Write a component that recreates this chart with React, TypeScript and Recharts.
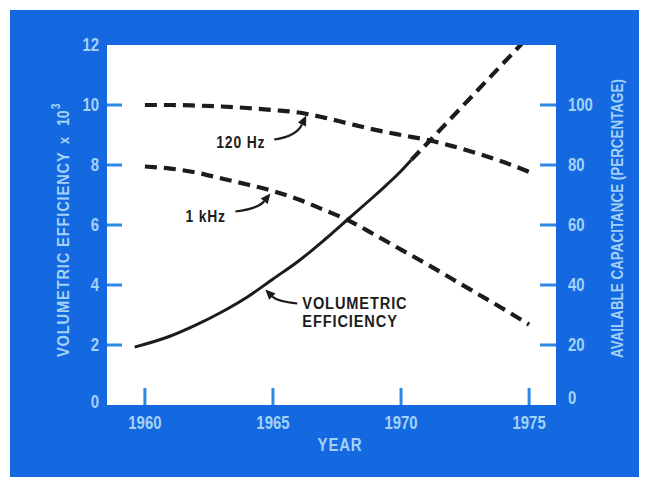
import React from 'react'
import { LineChart, Line, XAxis, YAxis, ReferenceDot } from 'recharts'

const FONT = "'Liberation Sans', Arial, Helvetica, sans-serif"
const FRAME_BLUE = '#1569e0'
const LABEL_BLUE = '#a3d2f8'
const TICK_BLUE = '#2b88e4'
const INK = '#1c1c1c'

const yearTicks = [1960, 1965, 1970, 1975]
const efficiencyTicks = [0, 2, 4, 6, 8, 10, 12]
const capacitanceTicks = [0, 20, 40, 60, 80, 100]

// volumetric efficiency x 10^3 — measured years (solid)
const measuredYears = [1959.6, 1961, 1962, 1963, 1964, 1965, 1966, 1967, 1968, 1969, 1970, 1970.4]
const measuredEfficiency = [1.93, 2.3, 2.67, 3.1, 3.6, 4.2, 4.8, 5.5, 6.25, 7.0, 7.8, 8.17]

// volumetric efficiency x 10^3 — projection (dashed)
const projectedYears = [1970.4, 1971, 1972, 1973, 1974, 1975]
const projectedEfficiency = [8.17, 8.7, 9.6, 10.5, 11.4, 12.3]

// available capacitance, percent
const capYears = [1960, 1961, 1962, 1963, 1964, 1965, 1966, 1967, 1968, 1969, 1970, 1971, 1972, 1973, 1974, 1975]
const cap120Hz = [100, 100, 99.8, 99.5, 99, 98.3, 97.5, 95.8, 93.7, 91.7, 90, 88.4, 86.3, 83.8, 81, 77.7]
const cap1kHz = [79.5, 78.8, 77.5, 75.5, 73.5, 71.3, 68.5, 65, 61.3, 56.6, 51.8, 47, 42, 37, 32, 26.8]

const zip = (xs: number[], ys: number[]) => xs.map((year, i) => ({ year, value: ys[i] }))

const textStyle = { fontFamily: FONT, fontWeight: 700 }

// condensed-looking label: squeeze the glyphs horizontally around (x, y)
function Narrow({ x, y, anchor = 'start', children, fill = LABEL_BLUE, size = 18, squeeze = 0.83, rotate = 0, spacing = 0 }: any) {
  return (
    <g transform={`translate(${x},${y}) rotate(${rotate}) scale(${squeeze},1)`}>
      <text x={0} y={0} textAnchor={anchor} dominantBaseline="central" fill={fill} fontSize={size} letterSpacing={spacing} style={textStyle}>
        {children}
      </text>
    </g>
  )
}

function LeftTick({ x, y, payload }: any) {
  const v = payload.value
  return (
    <g>
      {v !== 0 && v !== 12 && <line x1={x} x2={x + 15} y1={y} y2={y} stroke={TICK_BLUE} strokeWidth={3} />}
      <Narrow x={x - 8} y={v === 0 ? y - 3 : y} anchor="end">{v}</Narrow>
    </g>
  )
}

function RightTick({ x, y, payload }: any) {
  const v = payload.value
  return (
    <g>
      {v !== 0 && <line x1={x - 16} x2={x} y1={y} y2={y} stroke={TICK_BLUE} strokeWidth={3} />}
      <Narrow x={x + 12} y={v === 0 ? y - 7 : y}>{v}</Narrow>
    </g>
  )
}

function BottomTick({ x, y, payload }: any) {
  return (
    <g>
      <line x1={x} x2={x} y1={y - 17} y2={y} stroke={TICK_BLUE} strokeWidth={3} />
      <Narrow x={x} y={y + 18} anchor="middle">{payload.value}</Narrow>
    </g>
  )
}

// curved pointer ending at the reference dot, with its label beside it
function Callout({ cx, cy, lines, tx, ty, sx, sy, qx, qy, squeeze }: any) {
  const len = Math.hypot(qx, qy) || 1
  const ux = -qx / len
  const uy = -qy / len
  const head = 10
  const half = 4.5
  const bx = cx - ux * head
  const by = cy - uy * head
  return (
    <g>
      <path d={`M${cx + sx},${cy + sy} Q${cx + qx},${cy + qy} ${bx},${by}`} fill="none" stroke={INK} strokeWidth={2.2} />
      <polygon points={`${cx},${cy} ${bx - uy * half},${by + ux * half} ${bx + uy * half},${by - ux * half}`} fill={INK} />
      {lines.map((t: string, i: number) => (
        <Narrow key={t} x={cx + tx} y={cy + ty + i * 18} fill={INK} size={17} squeeze={squeeze} spacing={1}>
          {t}
        </Narrow>
      ))}
    </g>
  )
}

function LeftTitle({ viewBox }: any) {
  const x = viewBox.x + 53
  const y = viewBox.y + 312
  return (
    <g transform={`translate(${x},${y}) rotate(-90)`}>
      <Narrow x={0} y={0} size={17} squeeze={0.86} spacing={1}>VOLUMETRIC EFFICIENCY</Narrow>
      <Narrow x={213} y={1} size={14} squeeze={0.9}>x</Narrow>
      <Narrow x={231} y={0} size={17}>10</Narrow>
      <Narrow x={248} y={-7} size={12}>3</Narrow>
    </g>
  )
}

function RightTitle({ viewBox }: any) {
  return <Narrow x={viewBox.x + 61} y={viewBox.y + 313} rotate={-90} size={17} squeeze={0.79}>AVAILABLE CAPACITANCE (PERCENTAGE)</Narrow>
}

function BottomTitle({ viewBox }: any) {
  return (
    <Narrow x={viewBox.x + 233} y={viewBox.y + 40} anchor="middle" spacing={1}>
      YEAR
    </Narrow>
  )
}

export default function App() {
  const dashed = { strokeWidth: 4.2, strokeDasharray: '12 7', stroke: INK }
  return (
    <div style={{ marginLeft: 2, marginTop: 2, width: 635, height: 467, background: FRAME_BLUE }}>
      <LineChart width={635} height={467} margin={{ top: 35, right: 0, bottom: 0, left: 0 }}>
        <rect x={97} y={35} width={449} height={360} fill="#ffffff" />
        <XAxis
          dataKey="year"
          type="number"
          domain={[1958.52, 1976.05]}
          ticks={yearTicks}
          allowDataOverflow
          height={72}
          axisLine={false}
          tickLine={false}
          tickSize={0}
          tickMargin={0}
          tick={<BottomTick />}
          label={<BottomTitle />}
        />
        <YAxis
          yAxisId="eff"
          orientation="left"
          domain={[0, 12]}
          ticks={efficiencyTicks}
          allowDataOverflow
          width={97}
          axisLine={false}
          tickLine={false}
          tickSize={0}
          tickMargin={0}
          tick={<LeftTick />}
          label={<LeftTitle />}
        />
        <YAxis
          yAxisId="cap"
          orientation="right"
          domain={[0, 120]}
          ticks={capacitanceTicks}
          allowDataOverflow
          width={89}
          axisLine={false}
          tickLine={false}
          tickSize={0}
          tickMargin={0}
          tick={<RightTick />}
          label={<RightTitle />}
        />
        <Line
          yAxisId="cap"
          data={zip(capYears, cap120Hz)}
          dataKey="value"
          type="monotone"
          dot={false}
          isAnimationActive={false}
          {...dashed}
        />
        <Line
          yAxisId="cap"
          data={zip(capYears, cap1kHz)}
          dataKey="value"
          type="monotone"
          dot={false}
          isAnimationActive={false}
          {...dashed}
        />
        <Line
          yAxisId="eff"
          data={zip(measuredYears, measuredEfficiency)}
          dataKey="value"
          type="monotone"
          dot={false}
          stroke={INK}
          strokeWidth={3}
          isAnimationActive={false}
        />
        <Line
          yAxisId="eff"
          data={zip(projectedYears, projectedEfficiency)}
          dataKey="value"
          type="monotone"
          dot={false}
          isAnimationActive={false}
          {...dashed}
        />
        <ReferenceDot
          yAxisId="cap"
          x={1966.3}
          y={96.5}
          shape={(p: any) => (
            <Callout cx={p.cx} cy={p.cy} lines={['120 Hz']} squeeze={0.82} tx={-90} ty={26} sx={-32} sy={24} qx={-10} qy={21} />
          )}
        />
        <ReferenceDot
          yAxisId="cap"
          x={1964.9}
          y={70.5}
          shape={(p: any) => (
            <Callout cx={p.cx} cy={p.cy} lines={['1 kHz']} squeeze={0.82} tx={-85} ty={22} sx={-35} sy={18} qx={-12} qy={15} />
          )}
        />
        <ReferenceDot
          yAxisId="eff"
          x={1964.7}
          y={3.85}
          shape={(p: any) => (
            <Callout
              cx={p.cx}
              cy={p.cy}
              lines={['VOLUMETRIC', 'EFFICIENCY']}
              squeeze={0.86}
              tx={37}
              ty={14}
              sx={32}
              sy={14}
              qx={12}
              qy={12}
            />
          )}
        />
      </LineChart>
    </div>
  )
}
